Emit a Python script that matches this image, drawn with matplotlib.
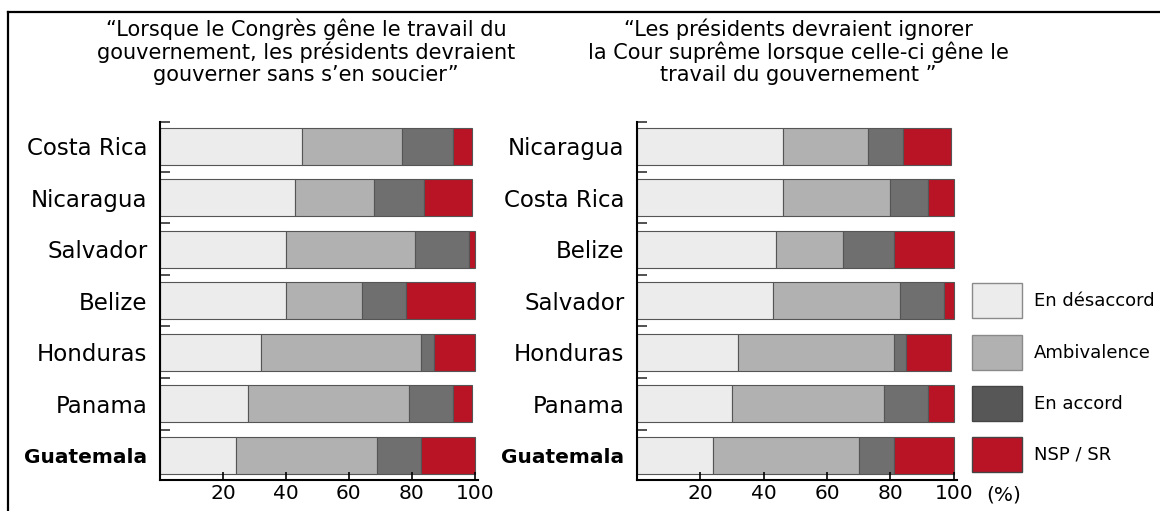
import matplotlib.pyplot as plt
from matplotlib.patches import Rectangle
from matplotlib.lines import Line2D

plt.rcParams["font.family"] = ["DejaVu Sans"]

# ---- data ----
categories = ["En désaccord", "Ambivalence", "En accord", "NSP / SR"]
bar_colors = ["#ececec", "#b1b1b1", "#6f6f6f", "#b81426"]
legend_colors = ["#ececec", "#b1b1b1", "#575757", "#b81426"]

left_title = ("\u201cLorsque le Congrès gêne le travail du\n"
              "gouvernement, les présidents devraient\n"
              "gouverner sans s\u2019en soucier\u201d")
left_countries = ["Costa Rica", "Nicaragua", "Salvador", "Belize",
                  "Honduras", "Panama", "Guatemala"]
left_desaccord = [45, 43, 40, 40, 32, 28, 24]
left_ambivalence = [32, 25, 41, 24, 51, 51, 45]
left_accord = [16, 16, 17, 14, 4, 14, 14]
left_nsp = [6, 15, 2, 22, 13, 6, 17]

right_title = ("\u201cLes présidents devraient ignorer\n"
               "la Cour suprême lorsque celle-ci gêne le\n"
               "travail du gouvernement \u201d")
right_countries = ["Nicaragua", "Costa Rica", "Belize", "Salvador",
                   "Honduras", "Panama", "Guatemala"]
right_desaccord = [46, 46, 44, 43, 32, 30, 24]
right_ambivalence = [27, 34, 21, 40, 49, 48, 46]
right_accord = [11, 12, 16, 14, 4, 14, 11]
right_nsp = [15, 8, 19, 3, 14, 8, 19]

xticks = [0, 20, 40, 60, 80, 100]
xticklabels = ["", "20", "40", "60", "80", "100"]

W, H = 1160, 511

# ---- figure ----
fig = plt.figure(figsize=(11.6, 5.11), dpi=100)
# frame: top and left edges only
fig.lines.append(Line2D([8 / W, 1.0], [1 - 12 / H, 1 - 12 / H], transform=fig.transFigure,
                        color="black", linewidth=1.6))
fig.lines.append(Line2D([8 / W, 8 / W], [0, 1 - 12 / H], transform=fig.transFigure,
                        color="black", linewidth=1.6))

ax_l = fig.add_axes([160 / W, 1 - 480 / H, 318 / W, 358 / H])
ax_r = fig.add_axes([637 / W, 1 - 480 / H, 320 / W, 358 / H])


def draw_panel(ax, title, title_x, countries, series):
    n = len(countries)
    ypos = list(range(n - 1, -1, -1))
    left = [0] * n
    for vals, col in zip(series, bar_colors):
        ax.barh(ypos, vals, left=left, height=0.72, color=col,
                edgecolor="#555555", linewidth=0.8)
        left = [a + b for a, b in zip(left, vals)]
    ytop = n - 0.53
    ax.set_xlim(0, 101)
    ax.set_ylim(-0.48, ytop)
    ax.set_yticks(ypos)
    ax.set_yticklabels(countries, fontsize=16.5)
    for lab in ax.get_yticklabels():
        if lab.get_text() == "Guatemala":
            lab.set_fontweight("bold")
            lab.set_fontsize(14.5)
    ax.tick_params(axis="y", length=0, pad=9)
    ax.set_yticks([y + 0.5 for y in range(n - 1)] + [ytop], minor=True)
    ax.tick_params(axis="y", which="minor", direction="in", length=7, width=1.2,
                   color="#333333")
    ax.set_xticks(xticks)
    ax.set_xticklabels(xticklabels, fontsize=14.5)
    ax.tick_params(axis="x", direction="in", length=5.5, width=1.2, pad=3)
    for s in ["top", "right"]:
        ax.spines[s].set_visible(False)
    for s in ["left", "bottom"]:
        ax.spines[s].set_linewidth(1.5)
    fig.text(title_x / W, 1 - 18 / H, title, ha="center", va="top",
             fontsize=15, linespacing=1.12)


draw_panel(ax_l, left_title, 306, left_countries,
           [left_desaccord, left_ambivalence, left_accord, left_nsp])
draw_panel(ax_r, right_title, 798, right_countries,
           [right_desaccord, right_ambivalence, right_accord, right_nsp])

ax_r.annotate("(%)", xy=(1, 0), xycoords="axes fraction", xytext=(21, -11),
              textcoords="offset points", ha="left", va="center", fontsize=14.5)

# ---- legend ----
sw_x, sw_w, sw_h = 972 / W, 50 / W, 35 / H
sw_tops = [283, 335, 386, 437]
for lab, col, top in zip(categories, legend_colors, sw_tops):
    y0 = 1 - (top + 35) / H
    edge = "#8a8a8a" if col in ("#ececec", "#b1b1b1") else "#444444"
    fig.patches.append(Rectangle((sw_x, y0), sw_w, sw_h, transform=fig.transFigure,
                                 facecolor=col, edgecolor=edge, linewidth=1.0))
    fig.text(1034 / W, y0 + sw_h / 2, lab, ha="left", va="center", fontsize=13)

fig.savefig("out.png", dpi=100)
